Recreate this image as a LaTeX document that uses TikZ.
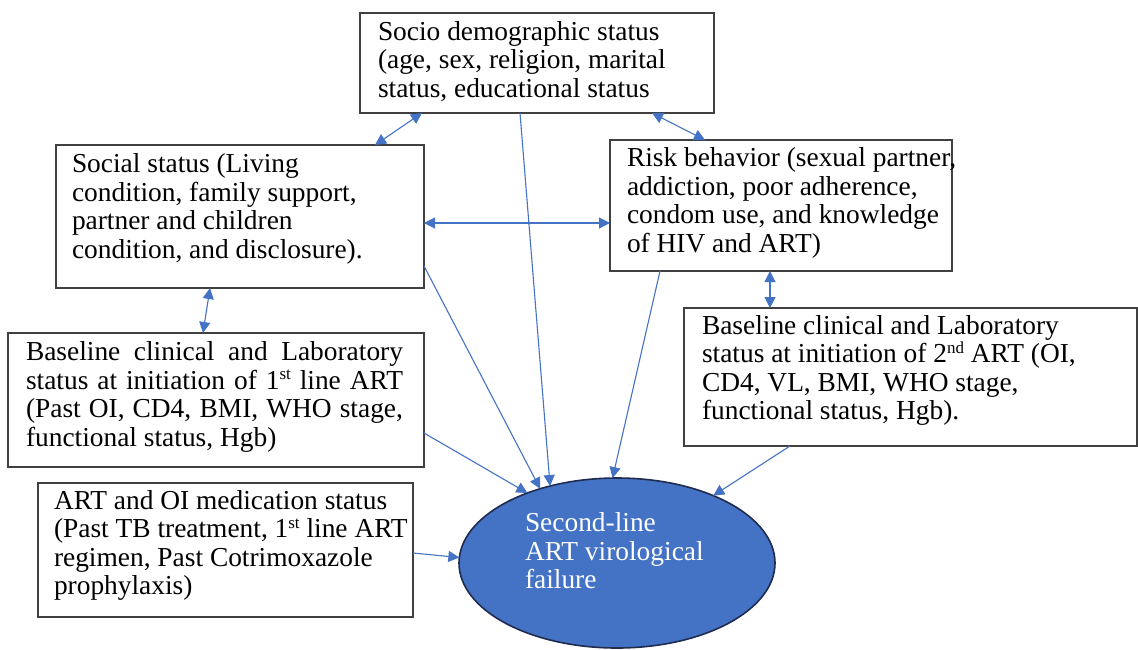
\documentclass[tikz,border=0pt]{standalone}
\usepackage{fontspec}
\setmainfont{Liberation Serif}
\usetikzlibrary{arrows.meta,shapes.geometric,calc}
\definecolor{linkblue}{HTML}{4472C4}
\definecolor{boxline}{HTML}{404040}
\definecolor{ellline}{HTML}{1F2C4F}

\newcommand{\ordsup}[1]{\raisebox{0.75ex}{\fontsize{8.5}{8.5}\selectfont #1}}

\tikzset{
  factor/.style={draw=boxline, line width=0.75pt, fill=white, rectangle,
    anchor=north west, inner sep=0pt, outer sep=0pt},
  boxtext/.style={anchor=base west, inner sep=0pt, outer sep=0pt,
    font=\fontsize{13.7}{14.3}\selectfont},
  link/.style={draw=linkblue, line width=0.55pt,
    -{Triangle[length=5.5pt,width=5.5pt]}},
  bothways/.style={draw=linkblue, line width=0.55pt,
    {Triangle[length=5.5pt,width=5.5pt]}-{Triangle[length=5.5pt,width=5.5pt]}},
}

\begin{document}
\begin{tikzpicture}[x=0.5pt, y=-0.5pt]
\useasboundingbox (0,0) rectangle (1138,649);

% factor boxes
\node[factor, minimum width=177pt, minimum height=50pt]   (soc)    at (360,13)  {};
\node[factor, minimum width=184pt, minimum height=71.5pt] (social) at (56,145)  {};
\node[factor, minimum width=171pt, minimum height=65.5pt] (risk)   at (610,140) {};
\node[factor, minimum width=208pt, minimum height=67pt]   (base1)  at (8,333)   {};
\node[factor, minimum width=226.5pt, minimum height=69pt] (base2)  at (684,308) {};
\node[factor, minimum width=187.5pt, minimum height=67pt] (art)    at (38,483)  {};

% outcome
\node[draw=ellline, fill=linkblue, ellipse, line width=0.8pt,
      minimum width=158pt, minimum height=85pt, inner sep=0pt, outer sep=0pt]
      (fail) at (617,563) {};

% box texts
\node[boxtext] (socT) at (378,40) {\parbox[t]{250pt}{\raggedright
  Socio demographic status\\
  (age, sex, religion, marital\\
  status, educational status}};
\node[boxtext] (socialT) at (72,172.5) {\parbox[t]{250pt}{\raggedright
  Social status (Living\\
  condition, family support,\\
  partner and children\\
  condition, and disclosure).}};
\node[boxtext] (riskT) at (627,166.5) {\parbox[t]{250pt}{\raggedright
  Risk behavior (sexual partner,\\
  addiction, poor adherence,\\
  condom use, and knowledge\\
  of HIV and ART)}};
\node[boxtext] (base1T) at (26,360.5) {\parbox[t]{188.5pt}{%
  \makebox[188.5pt][s]{Baseline clinical and Laboratory}\\
  \makebox[188.5pt][s]{status at initiation of 1\ordsup{st} line ART}\\
  \makebox[188.5pt][s]{(Past OI, CD4, BMI, WHO stage,}\\
  functional status, Hgb)}};
\node[boxtext] (base2T) at (702,334) {\parbox[t]{250pt}{\raggedright
  Baseline clinical and Laboratory\\
  status at initiation of 2\ordsup{nd} ART (OI,\\
  CD4, VL, BMI, WHO stage,\\
  functional status, Hgb).}};
\node[boxtext] (artT) at (54,509) {\parbox[t]{250pt}{\raggedright
  ART and OI medication status\\
  (Past TB treatment, 1\ordsup{st} line ART\\
  regimen, Past Cotrimoxazole\\
  prophylaxis)}};
\node[boxtext, text=white] (failT) at (525,531.5) {\parbox[t]{150pt}{\raggedright
  Second-line\\
  ART virological\\
  failure}};

% two-way links between factors
\draw[bothways] ($(soc.south west)+(62,0)$)     -- ($(social.north west)+(319,0)$);
\draw[bothways] ($(soc.south west)+(292,0)$)    -- ($(risk.north west)+(95,0)$);
\draw[bothways] ($(social.north east)+(0,78)$)  -- ($(risk.north west)+(0,83)$);
\draw[bothways] ($(social.south west)+(154,0)$) -- ($(base1.north west)+(195,0)$);
\draw[bothways] ($(risk.south west)+(160,0)$)   -- ($(base2.north west)+(86,0)$);

% links into the outcome
\draw[link] ($(soc.south west)+(160,0)$)    -- (fail.131.5);
\draw[link] ($(social.north east)+(0,121)$) -- (fail.136.5);
\draw[link] ($(risk.south west)+(50,0)$)    -- (fail.93.4);
\draw[link] ($(base1.north east)+(0,100)$)  -- (fail.142.7);
\draw[link] ($(base2.south west)+(106,0)$)  -- (fail.35.3);
\draw[link] ($(art.north east)+(0,70)$)     -- (fail.178.9);
\end{tikzpicture}
\end{document}
